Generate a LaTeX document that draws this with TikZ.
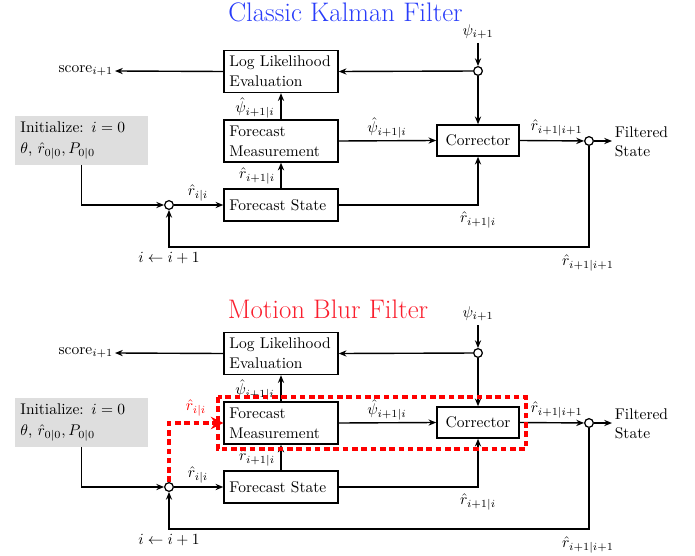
\documentclass[tikz,border=0pt]{standalone}
\usetikzlibrary{arrows.meta}

\definecolor{titleblue}{RGB}{40,60,250}
\definecolor{titlered}{RGB}{250,30,45}
\definecolor{initgray}{RGB}{222,222,222}

\tikzset{
  blk/.style={draw, line width=0.95pt, inner sep=3.5pt, align=left, font=\fontsize{10}{13}\selectfont},
  wide/.style={blk, text width=66.5pt},
  initbox/.style={fill=initgray, inner sep=3.5pt, align=left, text width=78.8pt,
                  minimum height=30.3pt, font=\fontsize{10}{13.5}\selectfont},
  sumnode/.style={circle, draw, line width=0.8pt, fill=white, minimum size=5.6pt, inner sep=0pt},
  flow/.style={line width=0.9pt, -{Stealth[length=5pt,width=4pt]}},
  lbl/.style={inner sep=1pt},
  hilite/.style={draw=red, line width=2.2pt, dash pattern=on 3.6pt off 2.4pt},
  titletext/.style={font=\fontsize{17.3}{20}\selectfont, anchor=base},
}

% One complete filter loop; #1 is a prefix for the node names
\newcommand\filterloop[1]{%
  \node[wide, minimum height=27pt] (#1ll) at (281,71.5) {Log Likelihood\\Evaluation};
  \node[wide, minimum height=27pt] (#1fm) at (281,141) {Forecast\\Measurement};
  \node[wide, minimum height=20.6pt] (#1fs) at (281,205) {Forecast State};
  \node[blk, align=center, minimum width=52.9pt, minimum height=20pt] (#1corr) at (478,140.5) {Corrector};
  \node[initbox] (#1init) at (81.5,140.5) {Initialize: $i=0$\\$\theta$, $\hat r_{0|0}, P_{0|0}$};
  \node[sumnode] (#1c1) at (169,205) {};
  \node[sumnode] (#1c2) at (478,71) {};
  \node[sumnode] (#1c3) at (589,141) {};
  \coordinate (#1score) at (115,71);
  \coordinate (#1out) at (612,141);
  \coordinate (#1in) at (478,43);
  \node[lbl, anchor=east] (#1scoretxt) at (#1score) {score$_{i+1}$};
  \node[lbl, anchor=west, align=left, font=\fontsize{10}{12.5}\selectfont] (#1filt) at (613,141.5) {Filtered\\State};
  \node[lbl] (#1psi) at (478,32) {$\psi_{i+1}$};
  % connectors
  \draw[flow] (#1in) -- (#1c2);
  \draw[flow] (#1c2) -- (#1ll.east);
  \draw[flow] (#1c2) -- (#1corr.north);
  \draw[flow] (#1ll.west) -- (#1score);
  \draw[flow] (#1fm.north) -- (#1ll.south);
  \draw[flow] (#1fs.north) -- (#1fm.south);
  \draw[flow] (#1fm.east) -- (#1corr.west);
  \draw[flow] (#1fs.east) -| (#1corr.south);
  \draw[flow] (#1c1) -- (#1fs.west);
  \draw[flow] (#1init.south) |- (#1c1);
  \draw[flow] (#1corr.east) -- (#1c3);
  \draw[flow] (#1c3) -- (#1out);
  \draw[flow] (#1c3) -- (589,247) -| (#1c1);
  % labels
  \node[lbl] (#1la) at (198,193) {$\hat r_{i|i}$};
  \node[lbl] (#1lb) at (255,108) {$\hat\psi_{i+1|i}$};
  \node[lbl] (#1lc) at (257,176) {$\hat r_{i+1|i}$};
  \node[lbl] (#1ld) at (387,128) {$\hat\psi_{i+1|i}$};
  \node[lbl, anchor=west] (#1le) at (529,128) {$\hat r_{i+1|i+1}$};
  \node[lbl] (#1lf) at (478,220) {$\hat r_{i+1|i}$};
  \node[lbl] (#1lg) at (588,263) {$\hat r_{i+1|i+1}$};
  \node[lbl] (#1lh) at (169,258) {$i\leftarrow i+1$};
}

\begin{document}
\begin{tikzpicture}[x=0.645pt, y=-0.645pt]
  \useasboundingbox (0,0) rectangle (695,556);

  % Classic Kalman filter
  \node[titletext, text=titleblue] (title1) at (345.5,22) {Classic Kalman Filter};
  \filterloop{k}

  % Motion blur filter
  \begin{scope}[shift={(0,282)}]
    \node[titletext, text=titlered] (title2) at (328,36) {Motion Blur Filter};
    \filterloop{m}
    \draw[hilite] (218,115) rectangle (526,167);
    \draw[hilite, -{Stealth[length=8pt,width=8pt]}] (mc1.north) |- (mfm.west);
    \node[lbl, text=red] (mlr) at (196,126) {$\hat r_{i|i}$};
  \end{scope}
\end{tikzpicture}
\end{document}
